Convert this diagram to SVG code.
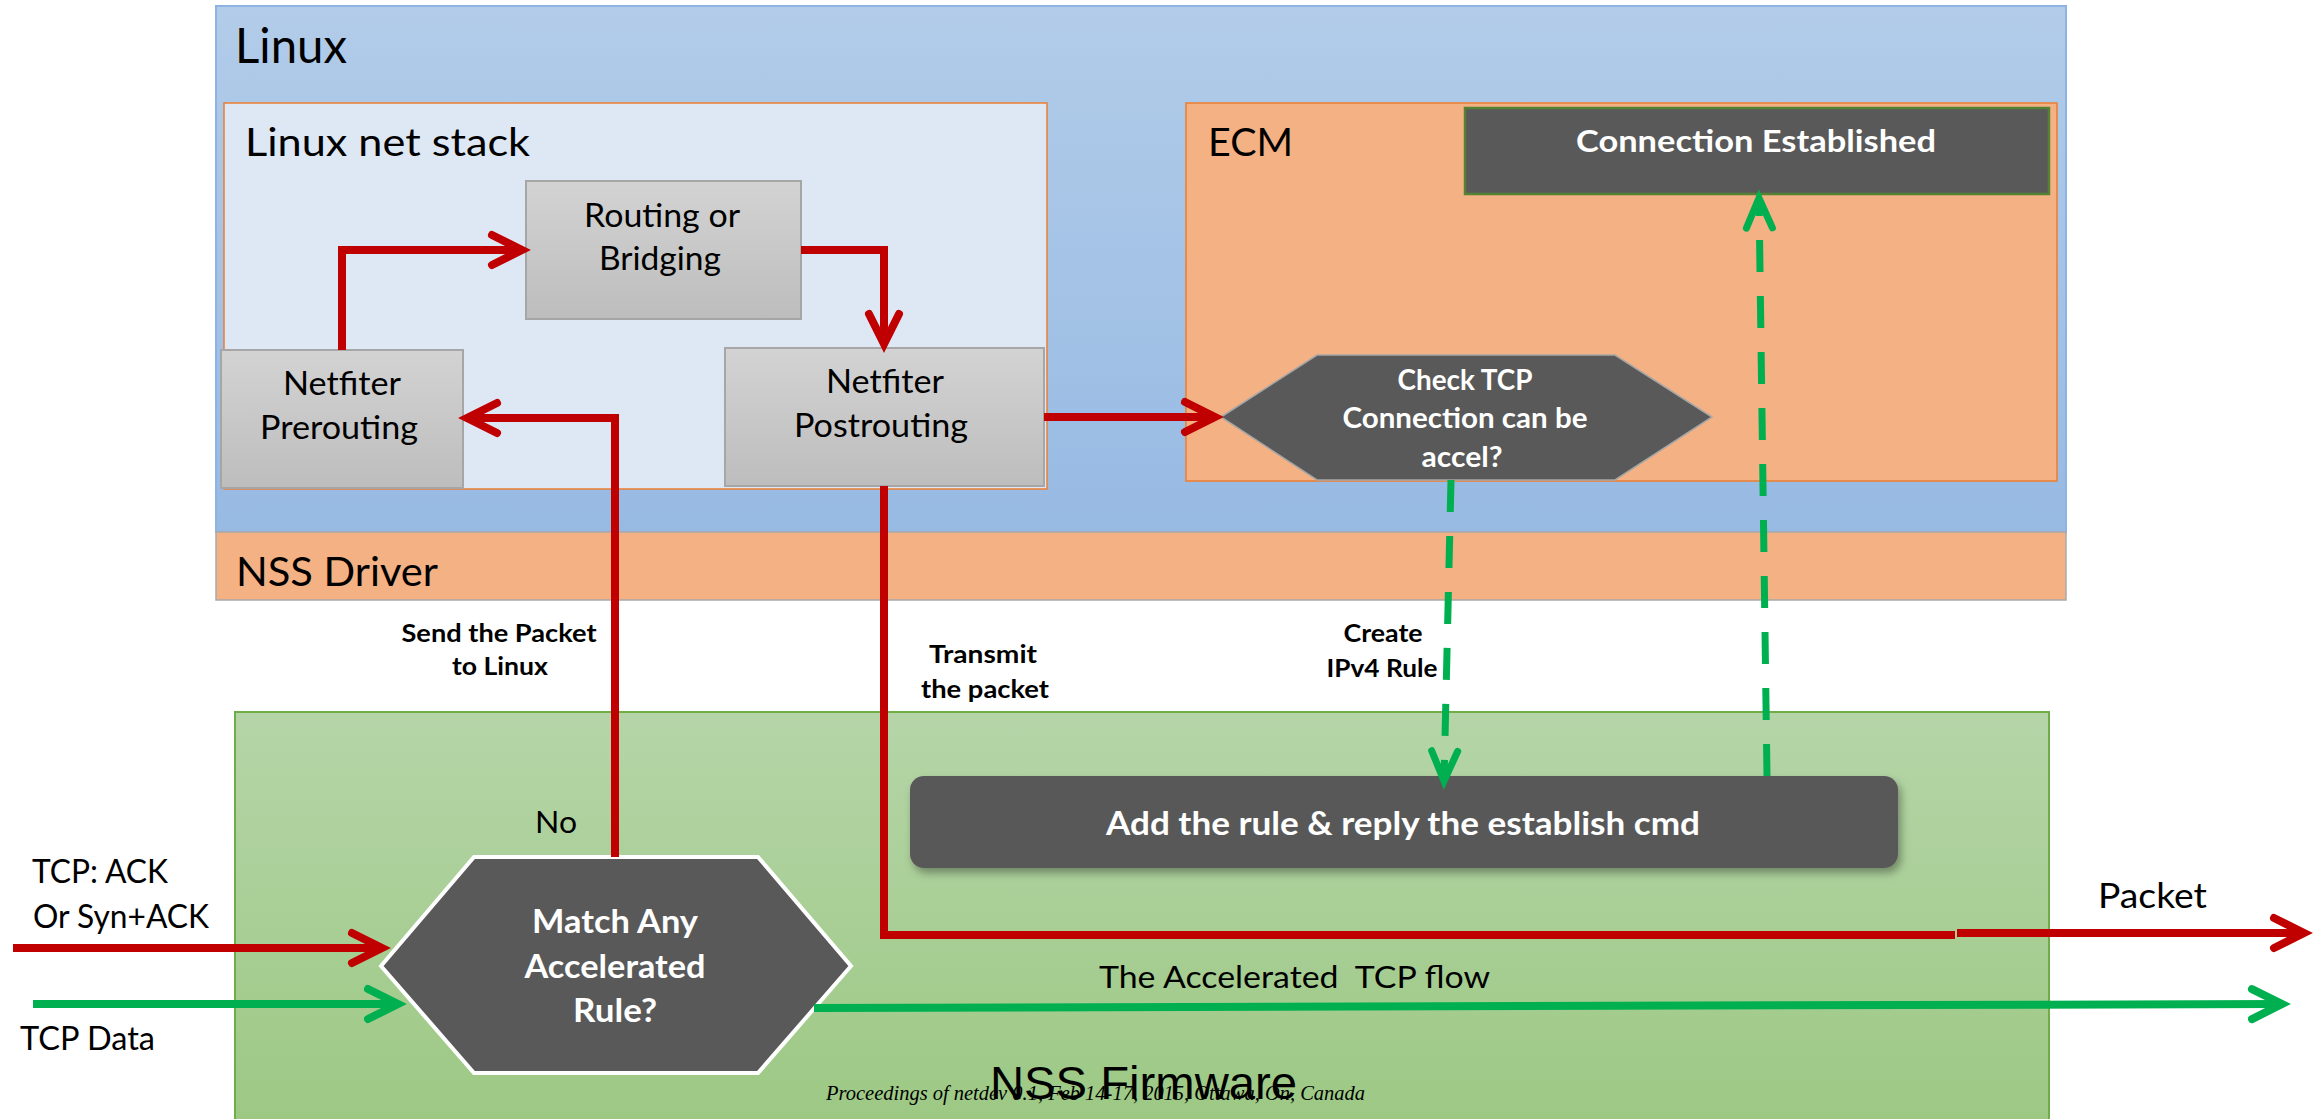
<svg xmlns="http://www.w3.org/2000/svg" width="2320" height="1119" viewBox="0 0 2320 1119">
<defs>
<linearGradient id="gLinux" x1="0" y1="0" x2="0" y2="1"><stop offset="0" stop-color="#b2cce9"/><stop offset="1" stop-color="#97bae3"/></linearGradient>
<linearGradient id="gFw" x1="0" y1="0" x2="0" y2="1"><stop offset="0" stop-color="#b5d5a8"/><stop offset="1" stop-color="#9cc883"/></linearGradient>
<linearGradient id="gBox" x1="0" y1="0" x2="0" y2="1"><stop offset="0" stop-color="#d3d3d3"/><stop offset="1" stop-color="#bdbdbd"/></linearGradient>
<filter id="shadow" x="-5%" y="-20%" width="110%" height="150%"><feDropShadow dx="3" dy="5" stdDeviation="4" flood-color="#000" flood-opacity="0.35"/></filter>
<marker id="aR" markerUnits="userSpaceOnUse" markerWidth="50" markerHeight="50" viewBox="-40 -25 50 50" refX="0" refY="0" orient="auto" overflow="visible">
<path d="M-30,-15 L0,0 L-30,15" fill="none" stroke="#c00000" stroke-width="8" stroke-linecap="round" stroke-linejoin="miter"/>
</marker>
<marker id="aG" markerUnits="userSpaceOnUse" markerWidth="50" markerHeight="50" viewBox="-40 -25 50 50" refX="0" refY="0" orient="auto" overflow="visible">
<path d="M-30,-15 L0,0 L-30,15" fill="none" stroke="#00b050" stroke-width="8" stroke-linecap="round" stroke-linejoin="miter"/>
</marker>
<marker id="aGd" markerUnits="userSpaceOnUse" markerWidth="50" markerHeight="50" viewBox="-40 -25 50 50" refX="0" refY="0" orient="auto" overflow="visible">
<path d="M-30,-13 L0,0 L-30,13" fill="none" stroke="#00b050" stroke-width="7" stroke-linecap="round" stroke-linejoin="miter"/>
</marker>
</defs>
<style>
text{font-family:Lato,"Open Sans","Liberation Sans",sans-serif;fill:#000}
.b{font-weight:bold}
.w{fill:#fff}
.box{fill:url(#gBox);stroke:#a6a6a6;stroke-width:2}
.red{fill:none;stroke:#c00000;stroke-width:8}
.grn{fill:none;stroke:#00b050;stroke-width:8}
.dash{fill:none;stroke:#00b050;stroke-width:7;stroke-dasharray:32 24}
.m{text-anchor:middle}
</style>
<rect width="2320" height="1119" fill="#fff"/>
<g id="linux">
<rect x="216" y="6" width="1850" height="526" fill="url(#gLinux)" stroke="#8db3e2" stroke-width="2"/>
<text x="235" y="63" font-size="48" textLength="112" lengthAdjust="spacingAndGlyphs">Linux</text>
</g>
<g id="nss-firmware">
<rect x="235" y="712" width="1814" height="420" fill="url(#gFw)" stroke="#70ad47" stroke-width="2"/>
<text x="990" y="1099" font-size="46" style="font-family:'Liberation Sans',Arial,sans-serif" textLength="307" lengthAdjust="spacingAndGlyphs">NSS Firmware</text>
</g>
<g id="nss-driver">
<rect x="216" y="532" width="1850" height="68" fill="#f4b183" stroke="#a9a9a9" stroke-width="1.5"/>
<text x="236" y="586" font-size="40" textLength="202" lengthAdjust="spacingAndGlyphs">NSS Driver</text>
</g>
<g id="net-stack">
<rect x="224" y="103" width="823" height="386" fill="#dee8f4" stroke="#ed7d31" stroke-width="1.5"/>
<text x="245" y="156" font-size="39" textLength="285" lengthAdjust="spacingAndGlyphs">Linux net stack</text>
</g>
<g id="ecm">
<rect x="1186" y="103" width="871" height="378" fill="#f4b183" stroke="#ed7d31" stroke-width="1.5"/>
<text x="1208" y="156" font-size="39" textLength="85" lengthAdjust="spacingAndGlyphs">ECM</text>
</g>
<g id="routing">
<rect class="box" x="526" y="181" width="275" height="138"/>
<text class="m" x="662" y="227" font-size="32" textLength="156" lengthAdjust="spacingAndGlyphs">Routing or</text>
<text class="m" x="660" y="270" font-size="32" textLength="122" lengthAdjust="spacingAndGlyphs">Bridging</text>
</g>
<g id="prerouting">
<rect class="box" x="221" y="350" width="242" height="138"/>
<text class="m" x="342" y="395" font-size="32" textLength="118" lengthAdjust="spacingAndGlyphs">Netfiter</text>
<text class="m" x="339" y="439" font-size="32" textLength="158" lengthAdjust="spacingAndGlyphs">Prerouting</text>
</g>
<g id="postrouting">
<rect class="box" x="725" y="348" width="319" height="138"/>
<text class="m" x="885" y="393" font-size="32" textLength="118" lengthAdjust="spacingAndGlyphs">Netfiter</text>
<text class="m" x="881" y="437" font-size="32" textLength="174" lengthAdjust="spacingAndGlyphs">Postrouting</text>
</g>
<g id="conn-established">
<rect x="1465" y="108" width="584" height="86" fill="#595959" stroke="#548235" stroke-width="2.5"/>
<text class="m b w" x="1756" y="152" font-size="30" textLength="360" lengthAdjust="spacingAndGlyphs">Connection Established</text>
</g>
<g id="check-tcp">
<polygon points="1221,417 1317,355 1615,355 1712,417 1615,480 1317,480" fill="#595959" stroke="#a6a6a6" stroke-width="1.5"/>
<text class="m b w" x="1465" y="390" font-size="28" textLength="135" lengthAdjust="spacingAndGlyphs">Check TCP</text>
<text class="m b w" x="1465" y="428" font-size="28" textLength="245" lengthAdjust="spacingAndGlyphs">Connection can be</text>
<text class="m b w" x="1462" y="467" font-size="28" textLength="81" lengthAdjust="spacingAndGlyphs">accel?</text>
</g>
<g id="add-rule">
<rect x="910" y="776" width="988" height="92" rx="14" fill="#595959" filter="url(#shadow)"/>
<text class="m b w" x="1403" y="835" font-size="32" textLength="594" lengthAdjust="spacingAndGlyphs">Add the rule &amp; reply the establish cmd</text>
</g>
<g id="match-rule">
<polygon points="381,966 474,857 758,857 851,966 758,1073 474,1073" fill="#595959" stroke="#fff" stroke-width="4"/>
<text class="m b w" x="615" y="933" font-size="32" textLength="166" lengthAdjust="spacingAndGlyphs">Match Any</text>
<text class="m b w" x="615" y="978" font-size="32" textLength="181" lengthAdjust="spacingAndGlyphs">Accelerated</text>
<text class="m b w" x="615" y="1022" font-size="32" textLength="84" lengthAdjust="spacingAndGlyphs">Rule?</text>
</g>
<g id="connectors">
<path class="red" d="M342,350 V250 H522" marker-end="url(#aR)"/>
<path class="red" d="M801,250 H884 V344" marker-end="url(#aR)"/>
<path class="red" d="M615,857 V418 H467" marker-end="url(#aR)"/>
<path class="red" d="M1044,417 H1215" marker-end="url(#aR)"/>
<path class="red" d="M884,486 V935 H1955"/>
<path class="red" d="M1957,933 H2304" marker-end="url(#aR)"/>
<path class="red" d="M13,948 H382" marker-end="url(#aR)"/>
<path class="grn" d="M33,1004 H398" marker-end="url(#aG)"/>
<path class="grn" d="M814,1008 L2282,1004" marker-end="url(#aG)"/>
<path class="dash" d="M1451,480 L1444,781" marker-end="url(#aGd)"/>
<path class="dash" d="M1767,776 L1759,198" marker-end="url(#aGd)"/>
</g>
<g id="labels">
<text class="m b" x="499" y="642" font-size="24" textLength="195" lengthAdjust="spacingAndGlyphs">Send the Packet</text>
<text class="m b" x="500" y="675" font-size="24" textLength="96" lengthAdjust="spacingAndGlyphs">to Linux</text>
<text class="m b" x="983" y="663" font-size="24" textLength="108" lengthAdjust="spacingAndGlyphs">Transmit</text>
<text class="m b" x="985" y="698" font-size="24" textLength="128" lengthAdjust="spacingAndGlyphs">the packet</text>
<text class="m b" x="1383" y="642" font-size="24" textLength="79" lengthAdjust="spacingAndGlyphs">Create</text>
<text class="m b" x="1382" y="677" font-size="24" textLength="111" lengthAdjust="spacingAndGlyphs">IPv4 Rule</text>
<text class="m" x="556" y="833" font-size="30" textLength="42" lengthAdjust="spacingAndGlyphs">No</text>
<text x="32" y="883" font-size="32" textLength="136" lengthAdjust="spacingAndGlyphs">TCP: ACK</text>
<text x="33" y="928" font-size="32" textLength="176" lengthAdjust="spacingAndGlyphs">Or Syn+ACK</text>
<text x="20" y="1050" font-size="32" textLength="135" lengthAdjust="spacingAndGlyphs">TCP Data</text>
<text x="2098" y="908" font-size="35" textLength="109" lengthAdjust="spacingAndGlyphs">Packet</text>
<text x="1099" y="988" font-size="30" style="white-space:pre" textLength="391" lengthAdjust="spacingAndGlyphs">The Accelerated  TCP flow</text>
<text x="826" y="1100" font-size="20" style="font-family:'Liberation Serif','Times New Roman',serif;font-style:italic" textLength="539" lengthAdjust="spacingAndGlyphs">Proceedings of netdev 0.1, Feb 14-17, 2015, Ottawa, On, Canada</text>
</g>
</svg>
